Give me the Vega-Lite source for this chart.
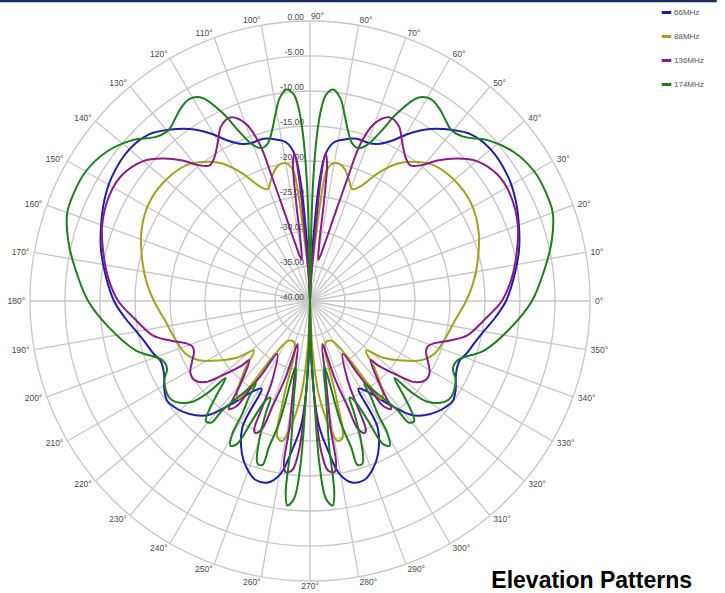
{
"$schema": "https://vega.github.io/schema/vega-lite/v6.json",
"width": 725, "height": 593, "padding": 0, "autosize": "none",
"background": "white",
"config": {"view": {"stroke": null}, "font": "Liberation Sans"},
"title": {"text": "Elevation Patterns", "orient": "bottom", "anchor": "end", "frame": "group", "offset": 0, "dx": -33, "dy": -5, "baseline": "alphabetic", "fontSize": 23, "fontWeight": "bold", "color": "#000000", "font": "Liberation Sans"},
"datasets": {
"bar": [{"name": "top"}],
"spokes": [{"a":0},{"a":10},{"a":20},{"a":30},{"a":40},{"a":50},{"a":60},{"a":70},{"a":80},{"a":90},{"a":100},{"a":110},{"a":120},{"a":130},{"a":140},{"a":150},{"a":160},{"a":170},{"a":180},{"a":190},{"a":200},{"a":210},{"a":220},{"a":230},{"a":240},{"a":250},{"a":260},{"a":270},{"a":280},{"a":290},{"a":300},{"a":310},{"a":320},{"a":330},{"a":340},{"a":350}],
"rings": [{"db":0,"lbl":"0.00"},{"db":-5,"lbl":"-5.00"},{"db":-10,"lbl":"-10.00"},{"db":-15,"lbl":"-15.00"},{"db":-20,"lbl":"-20.00"},{"db":-25,"lbl":"-25.00"},{"db":-30,"lbl":"-30.00"},{"db":-35,"lbl":"-35.00"},{"db":-40,"lbl":"-40.00"}],
"pat": [
{"f":"66MHz","s":"R","i":0,"a":90,"d":-40},{"f":"66MHz","s":"R","i":1,"a":88,"d":-35.7},{"f":"66MHz","s":"R","i":2,"a":86.5,"d":-28.6},{"f":"66MHz","s":"R","i":3,"a":85.5,"d":-22.9},{"f":"66MHz","s":"R","i":4,"a":84,"d":-18.9},{"f":"66MHz","s":"R","i":5,"a":81.5,"d":-17.1},{"f":"66MHz","s":"R","i":6,"a":78,"d":-16.4},{"f":"66MHz","s":"R","i":7,"a":74,"d":-15.9},{"f":"66MHz","s":"R","i":8,"a":69,"d":-15.9},{"f":"66MHz","s":"R","i":9,"a":66,"d":-15.4},{"f":"66MHz","s":"R","i":10,"a":63,"d":-14.3},{"f":"66MHz","s":"R","i":11,"a":59,"d":-12},{"f":"66MHz","s":"R","i":12,"a":55,"d":-10},{"f":"66MHz","s":"R","i":13,"a":50.5,"d":-8.3},{"f":"66MHz","s":"R","i":14,"a":46,"d":-6.9},{"f":"66MHz","s":"R","i":15,"a":40,"d":-6.3},{"f":"66MHz","s":"R","i":16,"a":32,"d":-6.6},{"f":"66MHz","s":"R","i":17,"a":26,"d":-7.3},{"f":"66MHz","s":"R","i":18,"a":19,"d":-8.4},{"f":"66MHz","s":"R","i":19,"a":13.5,"d":-9.3},{"f":"66MHz","s":"R","i":20,"a":7,"d":-10.6},{"f":"66MHz","s":"R","i":21,"a":0,"d":-12},{"f":"66MHz","s":"R","i":22,"a":-5,"d":-13.4},{"f":"66MHz","s":"R","i":23,"a":-9.5,"d":-14.7},{"f":"66MHz","s":"R","i":24,"a":-14,"d":-15.7},{"f":"66MHz","s":"R","i":25,"a":-18.5,"d":-16.4},{"f":"66MHz","s":"R","i":26,"a":-22,"d":-17},{"f":"66MHz","s":"R","i":27,"a":-26.5,"d":-16.7},{"f":"66MHz","s":"R","i":28,"a":-31.5,"d":-15.6},{"f":"66MHz","s":"R","i":29,"a":-35,"d":-15.1},{"f":"66MHz","s":"R","i":30,"a":-38,"d":-15.4},{"f":"66MHz","s":"R","i":31,"a":-41,"d":-15.9},{"f":"66MHz","s":"R","i":32,"a":-45,"d":-16.9},{"f":"66MHz","s":"R","i":33,"a":-48.5,"d":-18.3},{"f":"66MHz","s":"R","i":34,"a":-53,"d":-21.7},{"f":"66MHz","s":"R","i":35,"a":-57.5,"d":-24.6},{"f":"66MHz","s":"R","i":36,"a":-61,"d":-25.7},{"f":"66MHz","s":"R","i":37,"a":-61.8,"d":-19.6},{"f":"66MHz","s":"R","i":38,"a":-66,"d":-16.1},{"f":"66MHz","s":"R","i":39,"a":-69.7,"d":-14.3},{"f":"66MHz","s":"R","i":40,"a":-73,"d":-13.3},{"f":"66MHz","s":"R","i":41,"a":-77,"d":-13.4},{"f":"66MHz","s":"R","i":42,"a":-80.4,"d":-15},{"f":"66MHz","s":"R","i":43,"a":-83.2,"d":-18.6},{"f":"66MHz","s":"R","i":44,"a":-85.8,"d":-22},{"f":"66MHz","s":"R","i":45,"a":-87.4,"d":-26.3},{"f":"66MHz","s":"R","i":46,"a":-89,"d":-34.3},{"f":"66MHz","s":"R","i":47,"a":-90,"d":-40},
{"f":"66MHz","s":"L","i":0,"a":90,"d":-40},{"f":"66MHz","s":"L","i":1,"a":92,"d":-35.7},{"f":"66MHz","s":"L","i":2,"a":93.5,"d":-28.6},{"f":"66MHz","s":"L","i":3,"a":94.5,"d":-22.9},{"f":"66MHz","s":"L","i":4,"a":96,"d":-18.9},{"f":"66MHz","s":"L","i":5,"a":98.5,"d":-17.1},{"f":"66MHz","s":"L","i":6,"a":102,"d":-16.4},{"f":"66MHz","s":"L","i":7,"a":106,"d":-15.9},{"f":"66MHz","s":"L","i":8,"a":111,"d":-15.9},{"f":"66MHz","s":"L","i":9,"a":114,"d":-15.4},{"f":"66MHz","s":"L","i":10,"a":117,"d":-14.3},{"f":"66MHz","s":"L","i":11,"a":121,"d":-12},{"f":"66MHz","s":"L","i":12,"a":125,"d":-10},{"f":"66MHz","s":"L","i":13,"a":129.5,"d":-8.3},{"f":"66MHz","s":"L","i":14,"a":134,"d":-6.9},{"f":"66MHz","s":"L","i":15,"a":140,"d":-6.3},{"f":"66MHz","s":"L","i":16,"a":148,"d":-6.6},{"f":"66MHz","s":"L","i":17,"a":154,"d":-7.3},{"f":"66MHz","s":"L","i":18,"a":161,"d":-8.4},{"f":"66MHz","s":"L","i":19,"a":166.5,"d":-9.3},{"f":"66MHz","s":"L","i":20,"a":173,"d":-10.6},{"f":"66MHz","s":"L","i":21,"a":180,"d":-12},{"f":"66MHz","s":"L","i":22,"a":185,"d":-13.4},{"f":"66MHz","s":"L","i":23,"a":189.5,"d":-14.7},{"f":"66MHz","s":"L","i":24,"a":194,"d":-15.7},{"f":"66MHz","s":"L","i":25,"a":198.5,"d":-16.4},{"f":"66MHz","s":"L","i":26,"a":202,"d":-17},{"f":"66MHz","s":"L","i":27,"a":206.5,"d":-16.7},{"f":"66MHz","s":"L","i":28,"a":211.5,"d":-15.6},{"f":"66MHz","s":"L","i":29,"a":215,"d":-15.1},{"f":"66MHz","s":"L","i":30,"a":218,"d":-15.4},{"f":"66MHz","s":"L","i":31,"a":221,"d":-15.9},{"f":"66MHz","s":"L","i":32,"a":225,"d":-16.9},{"f":"66MHz","s":"L","i":33,"a":228.5,"d":-18.3},{"f":"66MHz","s":"L","i":34,"a":233,"d":-21.7},{"f":"66MHz","s":"L","i":35,"a":237.5,"d":-24.6},{"f":"66MHz","s":"L","i":36,"a":241,"d":-25.7},{"f":"66MHz","s":"L","i":37,"a":241.8,"d":-19.6},{"f":"66MHz","s":"L","i":38,"a":246,"d":-16.1},{"f":"66MHz","s":"L","i":39,"a":249.7,"d":-14.3},{"f":"66MHz","s":"L","i":40,"a":253,"d":-13.3},{"f":"66MHz","s":"L","i":41,"a":257,"d":-13.4},{"f":"66MHz","s":"L","i":42,"a":260.4,"d":-15},{"f":"66MHz","s":"L","i":43,"a":263.2,"d":-18.6},{"f":"66MHz","s":"L","i":44,"a":265.8,"d":-22},{"f":"66MHz","s":"L","i":45,"a":267.4,"d":-26.3},{"f":"66MHz","s":"L","i":46,"a":269,"d":-34.3},{"f":"66MHz","s":"L","i":47,"a":270,"d":-40},
{"f":"88MHz","s":"R","i":0,"a":90,"d":-40},{"f":"88MHz","s":"R","i":1,"a":86.5,"d":-35.7},{"f":"88MHz","s":"R","i":2,"a":84.5,"d":-29.3},{"f":"88MHz","s":"R","i":3,"a":83.6,"d":-23.6},{"f":"88MHz","s":"R","i":4,"a":82.5,"d":-21},{"f":"88MHz","s":"R","i":5,"a":80,"d":-20},{"f":"88MHz","s":"R","i":6,"a":77.5,"d":-20},{"f":"88MHz","s":"R","i":7,"a":75,"d":-20.6},{"f":"88MHz","s":"R","i":8,"a":72,"d":-21.9},{"f":"88MHz","s":"R","i":9,"a":69.3,"d":-22.9},{"f":"88MHz","s":"R","i":10,"a":66.7,"d":-22.3},{"f":"88MHz","s":"R","i":11,"a":62,"d":-19.3},{"f":"88MHz","s":"R","i":12,"a":57.5,"d":-16.7},{"f":"88MHz","s":"R","i":13,"a":54,"d":-15.4},{"f":"88MHz","s":"R","i":14,"a":48.5,"d":-13.9},{"f":"88MHz","s":"R","i":15,"a":40,"d":-13.1},{"f":"88MHz","s":"R","i":16,"a":31,"d":-13.1},{"f":"88MHz","s":"R","i":17,"a":22,"d":-14},{"f":"88MHz","s":"R","i":18,"a":12,"d":-15.6},{"f":"88MHz","s":"R","i":19,"a":6,"d":-16.6},{"f":"88MHz","s":"R","i":20,"a":0,"d":-17.7},{"f":"88MHz","s":"R","i":21,"a":-7.6,"d":-19.1},{"f":"88MHz","s":"R","i":22,"a":-16,"d":-20},{"f":"88MHz","s":"R","i":23,"a":-23,"d":-20.7},{"f":"88MHz","s":"R","i":24,"a":-28,"d":-22},{"f":"88MHz","s":"R","i":25,"a":-33,"d":-24.4},{"f":"88MHz","s":"R","i":26,"a":-38,"d":-26.9},{"f":"88MHz","s":"R","i":27,"a":-41.5,"d":-29.3},{"f":"88MHz","s":"R","i":28,"a":-45.5,"d":-27.1},{"f":"88MHz","s":"R","i":29,"a":-48.8,"d":-25},{"f":"88MHz","s":"R","i":30,"a":-51.9,"d":-23.1},{"f":"88MHz","s":"R","i":31,"a":-54,"d":-22.7},{"f":"88MHz","s":"R","i":32,"a":-55,"d":-25.7},{"f":"88MHz","s":"R","i":33,"a":-56,"d":-30},{"f":"88MHz","s":"R","i":34,"a":-62,"d":-33.6},{"f":"88MHz","s":"R","i":35,"a":-70,"d":-33.6},{"f":"88MHz","s":"R","i":36,"a":-74.8,"d":-25.7},{"f":"88MHz","s":"R","i":37,"a":-76.5,"d":-20},{"f":"88MHz","s":"R","i":38,"a":-78.8,"d":-19.6},{"f":"88MHz","s":"R","i":39,"a":-80.8,"d":-21.3},{"f":"88MHz","s":"R","i":40,"a":-84.5,"d":-26.3},{"f":"88MHz","s":"R","i":41,"a":-87,"d":-32.9},{"f":"88MHz","s":"R","i":42,"a":-90,"d":-40},
{"f":"88MHz","s":"L","i":0,"a":90,"d":-40},{"f":"88MHz","s":"L","i":1,"a":93.5,"d":-35.7},{"f":"88MHz","s":"L","i":2,"a":95.5,"d":-29.3},{"f":"88MHz","s":"L","i":3,"a":96.4,"d":-23.6},{"f":"88MHz","s":"L","i":4,"a":97.5,"d":-21},{"f":"88MHz","s":"L","i":5,"a":100,"d":-20},{"f":"88MHz","s":"L","i":6,"a":102.5,"d":-20},{"f":"88MHz","s":"L","i":7,"a":105,"d":-20.6},{"f":"88MHz","s":"L","i":8,"a":108,"d":-21.9},{"f":"88MHz","s":"L","i":9,"a":110.7,"d":-22.9},{"f":"88MHz","s":"L","i":10,"a":113.3,"d":-22.3},{"f":"88MHz","s":"L","i":11,"a":118,"d":-19.3},{"f":"88MHz","s":"L","i":12,"a":122.5,"d":-16.7},{"f":"88MHz","s":"L","i":13,"a":126,"d":-15.4},{"f":"88MHz","s":"L","i":14,"a":131.5,"d":-13.9},{"f":"88MHz","s":"L","i":15,"a":140,"d":-13.1},{"f":"88MHz","s":"L","i":16,"a":149,"d":-13.1},{"f":"88MHz","s":"L","i":17,"a":158,"d":-14},{"f":"88MHz","s":"L","i":18,"a":168,"d":-15.6},{"f":"88MHz","s":"L","i":19,"a":174,"d":-16.6},{"f":"88MHz","s":"L","i":20,"a":180,"d":-17.7},{"f":"88MHz","s":"L","i":21,"a":187.6,"d":-19.1},{"f":"88MHz","s":"L","i":22,"a":196,"d":-20},{"f":"88MHz","s":"L","i":23,"a":203,"d":-20.7},{"f":"88MHz","s":"L","i":24,"a":208,"d":-22},{"f":"88MHz","s":"L","i":25,"a":213,"d":-24.4},{"f":"88MHz","s":"L","i":26,"a":218,"d":-26.9},{"f":"88MHz","s":"L","i":27,"a":221.5,"d":-29.3},{"f":"88MHz","s":"L","i":28,"a":225.5,"d":-27.1},{"f":"88MHz","s":"L","i":29,"a":228.8,"d":-25},{"f":"88MHz","s":"L","i":30,"a":231.9,"d":-23.1},{"f":"88MHz","s":"L","i":31,"a":234,"d":-22.7},{"f":"88MHz","s":"L","i":32,"a":235,"d":-25.7},{"f":"88MHz","s":"L","i":33,"a":236,"d":-30},{"f":"88MHz","s":"L","i":34,"a":242,"d":-33.6},{"f":"88MHz","s":"L","i":35,"a":250,"d":-33.6},{"f":"88MHz","s":"L","i":36,"a":254.8,"d":-25.7},{"f":"88MHz","s":"L","i":37,"a":256.5,"d":-20},{"f":"88MHz","s":"L","i":38,"a":258.8,"d":-19.6},{"f":"88MHz","s":"L","i":39,"a":260.8,"d":-21.3},{"f":"88MHz","s":"L","i":40,"a":264.5,"d":-26.3},{"f":"88MHz","s":"L","i":41,"a":267,"d":-32.9},{"f":"88MHz","s":"L","i":42,"a":270,"d":-40},
{"f":"136MHz","s":"R","i":0,"a":90,"d":-40},{"f":"136MHz","s":"R","i":1,"a":87,"d":-36.4},{"f":"136MHz","s":"R","i":2,"a":85.5,"d":-28.6},{"f":"136MHz","s":"R","i":3,"a":85,"d":-22.9},{"f":"136MHz","s":"R","i":4,"a":84,"d":-18.9},{"f":"136MHz","s":"R","i":5,"a":83,"d":-20},{"f":"136MHz","s":"R","i":6,"a":82,"d":-25.7},{"f":"136MHz","s":"R","i":7,"a":81,"d":-31.4},{"f":"136MHz","s":"R","i":8,"a":78.5,"d":-34},{"f":"136MHz","s":"R","i":9,"a":75.5,"d":-31.4},{"f":"136MHz","s":"R","i":10,"a":74,"d":-27.1},{"f":"136MHz","s":"R","i":11,"a":73,"d":-21.7},{"f":"136MHz","s":"R","i":12,"a":72.2,"d":-16.4},{"f":"136MHz","s":"R","i":13,"a":70,"d":-13},{"f":"136MHz","s":"R","i":14,"a":66.5,"d":-11.4},{"f":"136MHz","s":"R","i":15,"a":63,"d":-12},{"f":"136MHz","s":"R","i":16,"a":60,"d":-13.7},{"f":"136MHz","s":"R","i":17,"a":56.5,"d":-15.3},{"f":"136MHz","s":"R","i":18,"a":53.5,"d":-15.9},{"f":"136MHz","s":"R","i":19,"a":50.8,"d":-15},{"f":"136MHz","s":"R","i":20,"a":47.8,"d":-12.9},{"f":"136MHz","s":"R","i":21,"a":44,"d":-10.7},{"f":"136MHz","s":"R","i":22,"a":40,"d":-8.9},{"f":"136MHz","s":"R","i":23,"a":34,"d":-7.7},{"f":"136MHz","s":"R","i":24,"a":28,"d":-7.6},{"f":"136MHz","s":"R","i":25,"a":20,"d":-8.4},{"f":"136MHz","s":"R","i":26,"a":12,"d":-9.9},{"f":"136MHz","s":"R","i":27,"a":6,"d":-11.1},{"f":"136MHz","s":"R","i":28,"a":0,"d":-12.6},{"f":"136MHz","s":"R","i":29,"a":-6.3,"d":-15},{"f":"136MHz","s":"R","i":30,"a":-12.3,"d":-17},{"f":"136MHz","s":"R","i":31,"a":-15.6,"d":-19.1},{"f":"136MHz","s":"R","i":32,"a":-18.9,"d":-21.3},{"f":"136MHz","s":"R","i":33,"a":-21.3,"d":-22},{"f":"136MHz","s":"R","i":34,"a":-23.7,"d":-21.9},{"f":"136MHz","s":"R","i":35,"a":-27.4,"d":-21},{"f":"136MHz","s":"R","i":36,"a":-30.8,"d":-20.1},{"f":"136MHz","s":"R","i":37,"a":-34.4,"d":-20},{"f":"136MHz","s":"R","i":38,"a":-37.8,"d":-21.1},{"f":"136MHz","s":"R","i":39,"a":-40.3,"d":-23.6},{"f":"136MHz","s":"R","i":40,"a":-43.5,"d":-26.7},{"f":"136MHz","s":"R","i":41,"a":-44.2,"d":-27.9},{"f":"136MHz","s":"R","i":42,"a":-50,"d":-24.6},{"f":"136MHz","s":"R","i":43,"a":-52,"d":-22},{"f":"136MHz","s":"R","i":44,"a":-53,"d":-20.7},{"f":"136MHz","s":"R","i":45,"a":-55,"d":-21.6},{"f":"136MHz","s":"R","i":46,"a":-55.7,"d":-24.6},{"f":"136MHz","s":"R","i":47,"a":-56.7,"d":-27.6},{"f":"136MHz","s":"R","i":48,"a":-58.2,"d":-31.1},{"f":"136MHz","s":"R","i":49,"a":-64.6,"d":-27.4},{"f":"136MHz","s":"R","i":50,"a":-65.8,"d":-23.4},{"f":"136MHz","s":"R","i":51,"a":-66.6,"d":-19.9},{"f":"136MHz","s":"R","i":52,"a":-67.7,"d":-19.6},{"f":"136MHz","s":"R","i":53,"a":-69.5,"d":-20.6},{"f":"136MHz","s":"R","i":54,"a":-70.4,"d":-24},{"f":"136MHz","s":"R","i":55,"a":-72.3,"d":-28.6},{"f":"136MHz","s":"R","i":56,"a":-74,"d":-33.6},{"f":"136MHz","s":"R","i":57,"a":-78.6,"d":-28.4},{"f":"136MHz","s":"R","i":58,"a":-80.8,"d":-21.3},{"f":"136MHz","s":"R","i":59,"a":-80.9,"d":-16.4},{"f":"136MHz","s":"R","i":60,"a":-81.9,"d":-15.3},{"f":"136MHz","s":"R","i":61,"a":-84,"d":-15.7},{"f":"136MHz","s":"R","i":62,"a":-85.8,"d":-18.6},{"f":"136MHz","s":"R","i":63,"a":-87,"d":-23.9},{"f":"136MHz","s":"R","i":64,"a":-88.5,"d":-31.4},{"f":"136MHz","s":"R","i":65,"a":-90,"d":-40},
{"f":"136MHz","s":"L","i":0,"a":90,"d":-40},{"f":"136MHz","s":"L","i":1,"a":93,"d":-36.4},{"f":"136MHz","s":"L","i":2,"a":94.5,"d":-28.6},{"f":"136MHz","s":"L","i":3,"a":95,"d":-22.9},{"f":"136MHz","s":"L","i":4,"a":96,"d":-18.9},{"f":"136MHz","s":"L","i":5,"a":97,"d":-20},{"f":"136MHz","s":"L","i":6,"a":98,"d":-25.7},{"f":"136MHz","s":"L","i":7,"a":99,"d":-31.4},{"f":"136MHz","s":"L","i":8,"a":101.5,"d":-34},{"f":"136MHz","s":"L","i":9,"a":104.5,"d":-31.4},{"f":"136MHz","s":"L","i":10,"a":106,"d":-27.1},{"f":"136MHz","s":"L","i":11,"a":107,"d":-21.7},{"f":"136MHz","s":"L","i":12,"a":107.8,"d":-16.4},{"f":"136MHz","s":"L","i":13,"a":110,"d":-13},{"f":"136MHz","s":"L","i":14,"a":113.5,"d":-11.4},{"f":"136MHz","s":"L","i":15,"a":117,"d":-12},{"f":"136MHz","s":"L","i":16,"a":120,"d":-13.7},{"f":"136MHz","s":"L","i":17,"a":123.5,"d":-15.3},{"f":"136MHz","s":"L","i":18,"a":126.5,"d":-15.9},{"f":"136MHz","s":"L","i":19,"a":129.2,"d":-15},{"f":"136MHz","s":"L","i":20,"a":132.2,"d":-12.9},{"f":"136MHz","s":"L","i":21,"a":136,"d":-10.7},{"f":"136MHz","s":"L","i":22,"a":140,"d":-8.9},{"f":"136MHz","s":"L","i":23,"a":146,"d":-7.7},{"f":"136MHz","s":"L","i":24,"a":152,"d":-7.6},{"f":"136MHz","s":"L","i":25,"a":160,"d":-8.4},{"f":"136MHz","s":"L","i":26,"a":168,"d":-9.9},{"f":"136MHz","s":"L","i":27,"a":174,"d":-11.1},{"f":"136MHz","s":"L","i":28,"a":180,"d":-12.6},{"f":"136MHz","s":"L","i":29,"a":186.3,"d":-15},{"f":"136MHz","s":"L","i":30,"a":192.3,"d":-17},{"f":"136MHz","s":"L","i":31,"a":195.6,"d":-19.1},{"f":"136MHz","s":"L","i":32,"a":198.9,"d":-21.3},{"f":"136MHz","s":"L","i":33,"a":201.3,"d":-22},{"f":"136MHz","s":"L","i":34,"a":203.7,"d":-21.9},{"f":"136MHz","s":"L","i":35,"a":207.4,"d":-21},{"f":"136MHz","s":"L","i":36,"a":210.8,"d":-20.1},{"f":"136MHz","s":"L","i":37,"a":214.4,"d":-20},{"f":"136MHz","s":"L","i":38,"a":217.8,"d":-21.1},{"f":"136MHz","s":"L","i":39,"a":220.3,"d":-23.6},{"f":"136MHz","s":"L","i":40,"a":223.5,"d":-26.7},{"f":"136MHz","s":"L","i":41,"a":224.2,"d":-27.9},{"f":"136MHz","s":"L","i":42,"a":230,"d":-24.6},{"f":"136MHz","s":"L","i":43,"a":232,"d":-22},{"f":"136MHz","s":"L","i":44,"a":233,"d":-20.7},{"f":"136MHz","s":"L","i":45,"a":235,"d":-21.6},{"f":"136MHz","s":"L","i":46,"a":235.7,"d":-24.6},{"f":"136MHz","s":"L","i":47,"a":236.7,"d":-27.6},{"f":"136MHz","s":"L","i":48,"a":238.2,"d":-31.1},{"f":"136MHz","s":"L","i":49,"a":244.6,"d":-27.4},{"f":"136MHz","s":"L","i":50,"a":245.8,"d":-23.4},{"f":"136MHz","s":"L","i":51,"a":246.6,"d":-19.9},{"f":"136MHz","s":"L","i":52,"a":247.7,"d":-19.6},{"f":"136MHz","s":"L","i":53,"a":249.5,"d":-20.6},{"f":"136MHz","s":"L","i":54,"a":250.4,"d":-24},{"f":"136MHz","s":"L","i":55,"a":252.3,"d":-28.6},{"f":"136MHz","s":"L","i":56,"a":254,"d":-33.6},{"f":"136MHz","s":"L","i":57,"a":258.6,"d":-28.4},{"f":"136MHz","s":"L","i":58,"a":260.8,"d":-21.3},{"f":"136MHz","s":"L","i":59,"a":260.9,"d":-16.4},{"f":"136MHz","s":"L","i":60,"a":261.9,"d":-15.3},{"f":"136MHz","s":"L","i":61,"a":264,"d":-15.7},{"f":"136MHz","s":"L","i":62,"a":265.8,"d":-18.6},{"f":"136MHz","s":"L","i":63,"a":267,"d":-23.9},{"f":"136MHz","s":"L","i":64,"a":268.5,"d":-31.4},{"f":"136MHz","s":"L","i":65,"a":270,"d":-40},
{"f":"174MHz","s":"R","i":0,"a":90,"d":-40},{"f":"174MHz","s":"R","i":1,"a":89,"d":-31.4},{"f":"174MHz","s":"R","i":2,"a":88.5,"d":-22.9},{"f":"174MHz","s":"R","i":3,"a":87.5,"d":-15.7},{"f":"174MHz","s":"R","i":4,"a":86.5,"d":-12.1},{"f":"174MHz","s":"R","i":5,"a":85.5,"d":-10.4},{"f":"174MHz","s":"R","i":6,"a":83.7,"d":-9.6},{"f":"174MHz","s":"R","i":7,"a":81.5,"d":-10.7},{"f":"174MHz","s":"R","i":8,"a":79.5,"d":-12.9},{"f":"174MHz","s":"R","i":9,"a":77.5,"d":-15},{"f":"174MHz","s":"R","i":10,"a":75,"d":-16.7},{"f":"174MHz","s":"R","i":11,"a":72.5,"d":-17.1},{"f":"174MHz","s":"R","i":12,"a":70,"d":-16.3},{"f":"174MHz","s":"R","i":13,"a":67.5,"d":-14},{"f":"174MHz","s":"R","i":14,"a":65,"d":-10.3},{"f":"174MHz","s":"R","i":15,"a":62,"d":-7.1},{"f":"174MHz","s":"R","i":16,"a":59,"d":-6.4},{"f":"174MHz","s":"R","i":17,"a":56,"d":-6.9},{"f":"174MHz","s":"R","i":18,"a":53.5,"d":-7.6},{"f":"174MHz","s":"R","i":19,"a":50.5,"d":-8.3},{"f":"174MHz","s":"R","i":20,"a":47,"d":-7.9},{"f":"174MHz","s":"R","i":21,"a":42,"d":-5.7},{"f":"174MHz","s":"R","i":22,"a":36,"d":-3.9},{"f":"174MHz","s":"R","i":23,"a":30,"d":-3},{"f":"174MHz","s":"R","i":24,"a":25,"d":-2.9},{"f":"174MHz","s":"R","i":25,"a":20,"d":-3.1},{"f":"174MHz","s":"R","i":26,"a":14,"d":-4.4},{"f":"174MHz","s":"R","i":27,"a":8,"d":-6.1},{"f":"174MHz","s":"R","i":28,"a":0,"d":-8.3},{"f":"174MHz","s":"R","i":29,"a":-7.4,"d":-11},{"f":"174MHz","s":"R","i":30,"a":-15.8,"d":-14.1},{"f":"174MHz","s":"R","i":31,"a":-21.9,"d":-17.3},{"f":"174MHz","s":"R","i":32,"a":-25.4,"d":-17.4},{"f":"174MHz","s":"R","i":33,"a":-28.5,"d":-16.3},{"f":"174MHz","s":"R","i":34,"a":-34.2,"d":-15.6},{"f":"174MHz","s":"R","i":35,"a":-36.9,"d":-16},{"f":"174MHz","s":"R","i":36,"a":-40.6,"d":-17.9},{"f":"174MHz","s":"R","i":37,"a":-42,"d":-20.6},{"f":"174MHz","s":"R","i":38,"a":-42.3,"d":-23.7},{"f":"174MHz","s":"R","i":39,"a":-45,"d":-21.3},{"f":"174MHz","s":"R","i":40,"a":-47.3,"d":-18.7},{"f":"174MHz","s":"R","i":41,"a":-49,"d":-17.3},{"f":"174MHz","s":"R","i":42,"a":-50.9,"d":-17.6},{"f":"174MHz","s":"R","i":43,"a":-51.3,"d":-20},{"f":"174MHz","s":"R","i":44,"a":-53.9,"d":-23.6},{"f":"174MHz","s":"R","i":45,"a":-56.7,"d":-25.9},{"f":"174MHz","s":"R","i":46,"a":-57.6,"d":-23.7},{"f":"174MHz","s":"R","i":47,"a":-59,"d":-21.3},{"f":"174MHz","s":"R","i":48,"a":-59.7,"d":-18},{"f":"174MHz","s":"R","i":49,"a":-61.2,"d":-16.4},{"f":"174MHz","s":"R","i":50,"a":-63,"d":-17.1},{"f":"174MHz","s":"R","i":51,"a":-64.2,"d":-21.1},{"f":"174MHz","s":"R","i":52,"a":-65.9,"d":-24.4},{"f":"174MHz","s":"R","i":53,"a":-67.7,"d":-25.1},{"f":"174MHz","s":"R","i":54,"a":-68.5,"d":-22.7},{"f":"174MHz","s":"R","i":55,"a":-69.9,"d":-18.9},{"f":"174MHz","s":"R","i":56,"a":-72.1,"d":-15.6},{"f":"174MHz","s":"R","i":57,"a":-73.8,"d":-15.6},{"f":"174MHz","s":"R","i":58,"a":-74.3,"d":-18.3},{"f":"174MHz","s":"R","i":59,"a":-75.8,"d":-22},{"f":"174MHz","s":"R","i":60,"a":-77.8,"d":-30.4},{"f":"174MHz","s":"R","i":61,"a":-80.5,"d":-26.1},{"f":"174MHz","s":"R","i":62,"a":-82.5,"d":-19},{"f":"174MHz","s":"R","i":63,"a":-82.8,"d":-12.3},{"f":"174MHz","s":"R","i":64,"a":-83.7,"d":-10.6},{"f":"174MHz","s":"R","i":65,"a":-85.4,"d":-11.7},{"f":"174MHz","s":"R","i":66,"a":-86.7,"d":-16.7},{"f":"174MHz","s":"R","i":67,"a":-87.5,"d":-26.3},{"f":"174MHz","s":"R","i":68,"a":-89,"d":-34.3},{"f":"174MHz","s":"R","i":69,"a":-90,"d":-40},
{"f":"174MHz","s":"L","i":0,"a":90,"d":-40},{"f":"174MHz","s":"L","i":1,"a":91,"d":-31.4},{"f":"174MHz","s":"L","i":2,"a":91.5,"d":-22.9},{"f":"174MHz","s":"L","i":3,"a":92.5,"d":-15.7},{"f":"174MHz","s":"L","i":4,"a":93.5,"d":-12.1},{"f":"174MHz","s":"L","i":5,"a":94.5,"d":-10.4},{"f":"174MHz","s":"L","i":6,"a":96.3,"d":-9.6},{"f":"174MHz","s":"L","i":7,"a":98.5,"d":-10.7},{"f":"174MHz","s":"L","i":8,"a":100.5,"d":-12.9},{"f":"174MHz","s":"L","i":9,"a":102.5,"d":-15},{"f":"174MHz","s":"L","i":10,"a":105,"d":-16.7},{"f":"174MHz","s":"L","i":11,"a":107.5,"d":-17.1},{"f":"174MHz","s":"L","i":12,"a":110,"d":-16.3},{"f":"174MHz","s":"L","i":13,"a":112.5,"d":-14},{"f":"174MHz","s":"L","i":14,"a":115,"d":-10.3},{"f":"174MHz","s":"L","i":15,"a":118,"d":-7.1},{"f":"174MHz","s":"L","i":16,"a":121,"d":-6.4},{"f":"174MHz","s":"L","i":17,"a":124,"d":-6.9},{"f":"174MHz","s":"L","i":18,"a":126.5,"d":-7.6},{"f":"174MHz","s":"L","i":19,"a":129.5,"d":-8.3},{"f":"174MHz","s":"L","i":20,"a":133,"d":-7.9},{"f":"174MHz","s":"L","i":21,"a":138,"d":-5.7},{"f":"174MHz","s":"L","i":22,"a":144,"d":-3.9},{"f":"174MHz","s":"L","i":23,"a":150,"d":-3},{"f":"174MHz","s":"L","i":24,"a":155,"d":-2.9},{"f":"174MHz","s":"L","i":25,"a":160,"d":-3.1},{"f":"174MHz","s":"L","i":26,"a":166,"d":-4.4},{"f":"174MHz","s":"L","i":27,"a":172,"d":-6.1},{"f":"174MHz","s":"L","i":28,"a":180,"d":-8.3},{"f":"174MHz","s":"L","i":29,"a":187.4,"d":-11},{"f":"174MHz","s":"L","i":30,"a":195.8,"d":-14.1},{"f":"174MHz","s":"L","i":31,"a":201.9,"d":-17.3},{"f":"174MHz","s":"L","i":32,"a":205.4,"d":-17.4},{"f":"174MHz","s":"L","i":33,"a":208.5,"d":-16.3},{"f":"174MHz","s":"L","i":34,"a":214.2,"d":-15.6},{"f":"174MHz","s":"L","i":35,"a":216.9,"d":-16},{"f":"174MHz","s":"L","i":36,"a":220.6,"d":-17.9},{"f":"174MHz","s":"L","i":37,"a":222,"d":-20.6},{"f":"174MHz","s":"L","i":38,"a":222.3,"d":-23.7},{"f":"174MHz","s":"L","i":39,"a":225,"d":-21.3},{"f":"174MHz","s":"L","i":40,"a":227.3,"d":-18.7},{"f":"174MHz","s":"L","i":41,"a":229,"d":-17.3},{"f":"174MHz","s":"L","i":42,"a":230.9,"d":-17.6},{"f":"174MHz","s":"L","i":43,"a":231.3,"d":-20},{"f":"174MHz","s":"L","i":44,"a":233.9,"d":-23.6},{"f":"174MHz","s":"L","i":45,"a":236.7,"d":-25.9},{"f":"174MHz","s":"L","i":46,"a":237.6,"d":-23.7},{"f":"174MHz","s":"L","i":47,"a":239,"d":-21.3},{"f":"174MHz","s":"L","i":48,"a":239.7,"d":-18},{"f":"174MHz","s":"L","i":49,"a":241.2,"d":-16.4},{"f":"174MHz","s":"L","i":50,"a":243,"d":-17.1},{"f":"174MHz","s":"L","i":51,"a":244.2,"d":-21.1},{"f":"174MHz","s":"L","i":52,"a":245.9,"d":-24.4},{"f":"174MHz","s":"L","i":53,"a":247.7,"d":-25.1},{"f":"174MHz","s":"L","i":54,"a":248.5,"d":-22.7},{"f":"174MHz","s":"L","i":55,"a":249.9,"d":-18.9},{"f":"174MHz","s":"L","i":56,"a":252.1,"d":-15.6},{"f":"174MHz","s":"L","i":57,"a":253.8,"d":-15.6},{"f":"174MHz","s":"L","i":58,"a":254.3,"d":-18.3},{"f":"174MHz","s":"L","i":59,"a":255.8,"d":-22},{"f":"174MHz","s":"L","i":60,"a":257.8,"d":-30.4},{"f":"174MHz","s":"L","i":61,"a":260.5,"d":-26.1},{"f":"174MHz","s":"L","i":62,"a":262.5,"d":-19},{"f":"174MHz","s":"L","i":63,"a":262.8,"d":-12.3},{"f":"174MHz","s":"L","i":64,"a":263.7,"d":-10.6},{"f":"174MHz","s":"L","i":65,"a":265.4,"d":-11.7},{"f":"174MHz","s":"L","i":66,"a":266.7,"d":-16.7},{"f":"174MHz","s":"L","i":67,"a":267.5,"d":-26.3},{"f":"174MHz","s":"L","i":68,"a":269,"d":-34.3},{"f":"174MHz","s":"L","i":69,"a":270,"d":-40}
]
},
"layer": [
{"data": {"name": "bar"},
 "transform": [{"calculate": "-44.3", "as": "bx1"}, {"calculate": "58.1", "as": "bx2"}, {"calculate": "42.9", "as": "by"}],
 "mark": {"type": "rule", "color": "#1b2a5c", "strokeWidth": 3},
 "encoding": {
  "x": {"field": "bx1", "type": "quantitative", "scale": {"domain": [-44.2857, 59.2857], "nice": false, "zero": false}, "axis": null},
  "x2": {"field": "bx2"},
  "y": {"field": "by", "type": "quantitative", "scale": {"domain": [-41.7143, 43.0], "nice": false, "zero": false}, "axis": null}}},
{"data": {"name": "spokes"},
 "transform": [{"calculate": "0", "as": "cx"}, {"calculate": "0", "as": "cy"}, {"calculate": "40*cos(datum.a*PI/180)", "as": "ex"}, {"calculate": "40*sin(datum.a*PI/180)", "as": "ey"}],
 "mark": {"type": "rule", "color": "#c6c6c6", "strokeWidth": 1.3},
 "encoding": {
  "x": {"field": "cx", "type": "quantitative", "scale": {"domain": [-44.2857, 59.2857], "nice": false, "zero": false}, "axis": null},
  "y": {"field": "cy", "type": "quantitative", "scale": {"domain": [-41.7143, 43.0], "nice": false, "zero": false}, "axis": null},
  "x2": {"field": "ex"}, "y2": {"field": "ey"}}},
{"data": {"name": "rings"},
 "transform": [{"filter": "datum.db > -40"}, {"calculate": "datum.db + 40", "as": "r"}, {"calculate": "0", "as": "cx"}, {"calculate": "0", "as": "cy"}],
 "mark": {"type": "point", "shape": "circle", "filled": false, "color": "#c6c6c6", "strokeWidth": 1.3, "opacity": 1},
 "encoding": {
  "x": {"field": "cx", "type": "quantitative", "scale": {"domain": [-44.2857, 59.2857], "nice": false, "zero": false}, "axis": null},
  "y": {"field": "cy", "type": "quantitative", "scale": {"domain": [-41.7143, 43.0], "nice": false, "zero": false}, "axis": null},
  "size": {"field": "r", "type": "quantitative", "scale": {"type": "pow", "exponent": 2, "domain": [0, 40], "range": [0, 313600]}, "legend": null}}},
{"data": {"name": "rings"},
 "transform": [{"calculate": "datum.db + 40", "as": "r"}, {"calculate": "0", "as": "cx"}],
 "mark": {"type": "text", "align": "right", "baseline": "middle", "dx": -6, "dy": -4, "fontSize": 8.5, "color": "#4a4a4a", "font": "Liberation Sans"},
 "encoding": {
  "x": {"field": "cx", "type": "quantitative", "scale": {"domain": [-44.2857, 59.2857], "nice": false, "zero": false}, "axis": null},
  "y": {"field": "r", "type": "quantitative", "scale": {"domain": [-41.7143, 43.0], "nice": false, "zero": false}, "axis": null},
  "text": {"field": "lbl", "type": "nominal"}}},
{"data": {"name": "spokes"},
 "transform": [{"filter": "datum.a < 90 || datum.a > 270"}, {"calculate": "40.7*cos(datum.a*PI/180)", "as": "lx"}, {"calculate": "40.7*sin(datum.a*PI/180)", "as": "ly"}, {"calculate": "datum.a + '°'", "as": "t"}],
 "mark": {"type": "text", "align": "left", "baseline": "middle", "fontSize": 8.5, "color": "#4a4a4a", "font": "Liberation Sans"},
 "encoding": {
  "x": {"field": "lx", "type": "quantitative", "scale": {"domain": [-44.2857, 59.2857], "nice": false, "zero": false}, "axis": null},
  "y": {"field": "ly", "type": "quantitative", "scale": {"domain": [-41.7143, 43.0], "nice": false, "zero": false}, "axis": null},
  "text": {"field": "t", "type": "nominal"}}},
{"data": {"name": "spokes"},
 "transform": [{"filter": "datum.a > 90 && datum.a < 270"}, {"calculate": "40.7*cos(datum.a*PI/180)", "as": "lx"}, {"calculate": "40.7*sin(datum.a*PI/180)", "as": "ly"}, {"calculate": "datum.a + '°'", "as": "t"}],
 "mark": {"type": "text", "align": "right", "baseline": "middle", "fontSize": 8.5, "color": "#4a4a4a", "font": "Liberation Sans"},
 "encoding": {
  "x": {"field": "lx", "type": "quantitative", "scale": {"domain": [-44.2857, 59.2857], "nice": false, "zero": false}, "axis": null},
  "y": {"field": "ly", "type": "quantitative", "scale": {"domain": [-41.7143, 43.0], "nice": false, "zero": false}, "axis": null},
  "text": {"field": "t", "type": "nominal"}}},
{"data": {"name": "spokes"},
 "transform": [{"filter": "datum.a == 90"}, {"calculate": "0", "as": "lx"}, {"calculate": "40.7*sin(datum.a*PI/180)", "as": "ly"}, {"calculate": "datum.a + '°'", "as": "t"}],
 "mark": {"type": "text", "align": "left", "baseline": "middle", "dx": 1, "fontSize": 8.5, "color": "#4a4a4a", "font": "Liberation Sans"},
 "encoding": {
  "x": {"field": "lx", "type": "quantitative", "scale": {"domain": [-44.2857, 59.2857], "nice": false, "zero": false}, "axis": null},
  "y": {"field": "ly", "type": "quantitative", "scale": {"domain": [-41.7143, 43.0], "nice": false, "zero": false}, "axis": null},
  "text": {"field": "t", "type": "nominal"}}},
{"data": {"name": "spokes"},
 "transform": [{"filter": "datum.a == 270"}, {"calculate": "0", "as": "lx"}, {"calculate": "40.7*sin(datum.a*PI/180)", "as": "ly"}, {"calculate": "datum.a + '°'", "as": "t"}],
 "mark": {"type": "text", "align": "center", "baseline": "middle", "fontSize": 8.5, "color": "#4a4a4a", "font": "Liberation Sans"},
 "encoding": {
  "x": {"field": "lx", "type": "quantitative", "scale": {"domain": [-44.2857, 59.2857], "nice": false, "zero": false}, "axis": null},
  "y": {"field": "ly", "type": "quantitative", "scale": {"domain": [-41.7143, 43.0], "nice": false, "zero": false}, "axis": null},
  "text": {"field": "t", "type": "nominal"}}},
{"data": {"name": "pat"},
 "transform": [{"calculate": "(datum.d+40)*cos(datum.a*PI/180)", "as": "x"}, {"calculate": "(datum.d+40)*sin(datum.a*PI/180)", "as": "y"}],
 "mark": {"type": "line", "strokeWidth": 2, "interpolate": "catmull-rom"},
 "encoding": {
  "x": {"field": "x", "type": "quantitative", "scale": {"domain": [-44.2857, 59.2857], "nice": false, "zero": false}, "axis": null},
  "y": {"field": "y", "type": "quantitative", "scale": {"domain": [-41.7143, 43.0], "nice": false, "zero": false}, "axis": null},
  "color": {"field": "f", "type": "nominal", "scale": {"domain": ["66MHz", "88MHz", "136MHz", "174MHz"], "range": ["#1f1fa6", "#a2a21e", "#8a1c86", "#1e7d1e"]},
   "legend": {"title": null, "orient": "none", "legendX": 660, "legendY": 6, "symbolType": "stroke", "symbolStrokeWidth": 3, "symbolSize": 90, "labelFontSize": 8, "labelColor": "#555555", "labelFont": "Liberation Sans", "rowPadding": 11, "labelOffset": 1, "padding": 0}},
  "detail": {"field": "s", "type": "nominal"},
  "order": {"field": "i", "type": "quantitative"}}}
]
}
